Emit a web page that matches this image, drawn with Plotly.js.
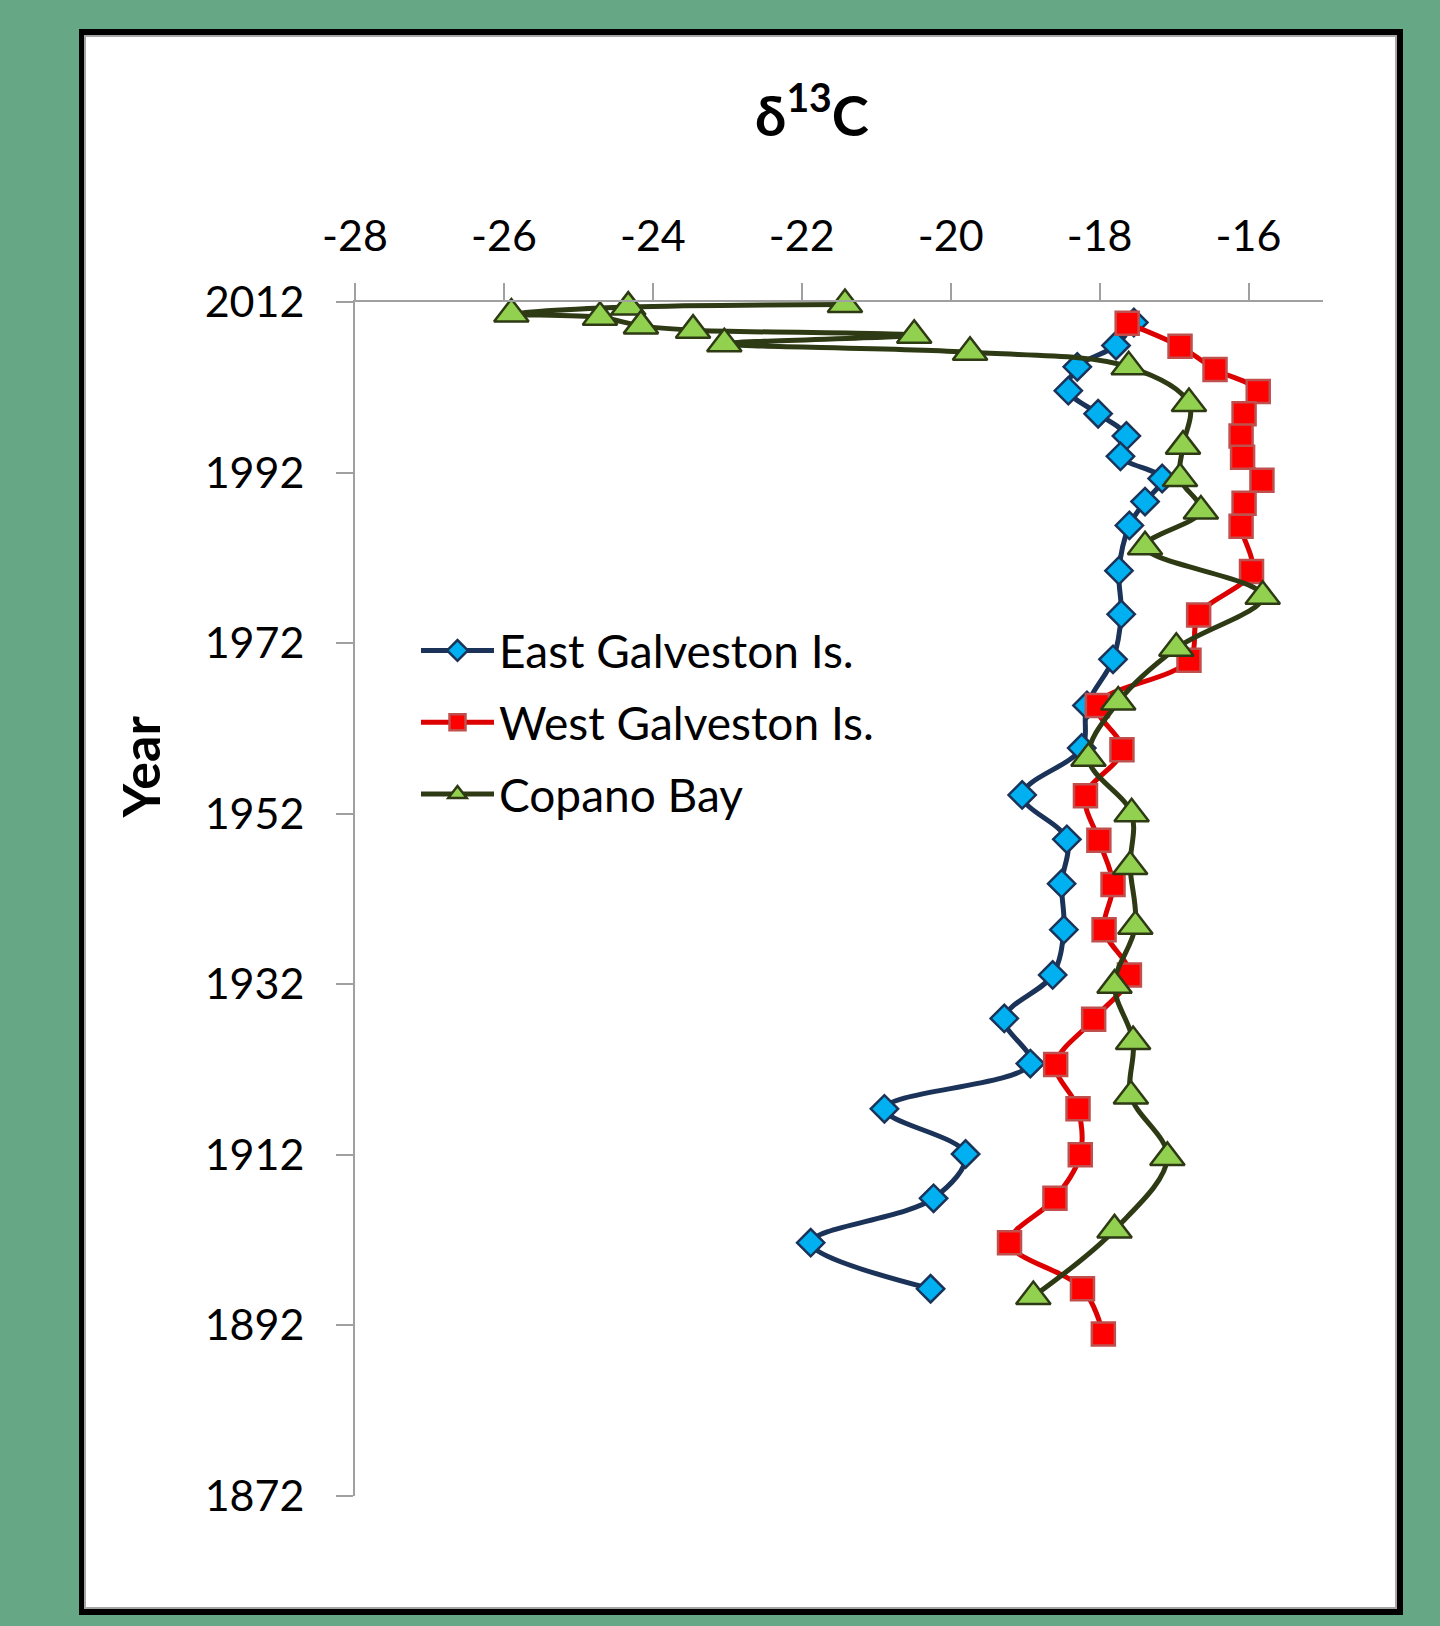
<!DOCTYPE html>
<html>
<head>
<meta charset="utf-8">
<script src="https://cdn.plot.ly/plotly-3.0.1.min.js"></script>
<style>
html,body{margin:0;padding:0;background:#66A886;}
#chart{width:1440px;height:1626px;}
</style>
</head>
<body>
<div id="chart"></div>
<script>
// ---- data ----
const seriesNames = ['East Galveston Is.', 'West Galveston Is.', 'Copano Bay'];

const yearsEast = [2009.6, 2006.9, 2004.4, 2001.6, 1998.9, 1996.3, 1993.9, 1991.3, 1988.6, 1985.8,
  1980.5, 1975.4, 1970.1, 1964.7, 1959.7, 1954.2, 1949.0, 1943.8, 1938.4, 1933.1,
  1928.0, 1922.7, 1917.4, 1912.1, 1906.9, 1901.7, 1896.3];
const d13cEast = [-17.54, -17.78, -18.30, -18.42, -18.02, -17.64, -17.72, -17.16, -17.39, -17.60,
  -17.74, -17.71, -17.82, -18.17, -18.24, -19.04, -18.44, -18.51, -18.48, -18.63,
  -19.28, -18.93, -20.89, -19.80, -20.23, -21.88, -20.27];

const yearsWest = [2009.5, 2006.8, 2004.1, 2001.5, 1998.9, 1996.3, 1993.8, 1991.1, 1988.4, 1985.7,
  1980.4, 1975.3, 1970.0, 1964.7, 1959.5, 1954.1, 1948.9, 1943.7, 1938.4, 1933.1,
  1927.9, 1922.6, 1917.4, 1912.0, 1906.9, 1901.7, 1896.3, 1891.0];
const d13cWest = [-17.63, -16.92, -16.45, -15.87, -16.06, -16.10, -16.08, -15.82, -16.06, -16.10,
  -15.96, -16.67, -16.80, -18.03, -17.70, -18.19, -18.01, -17.82, -17.94, -17.60,
  -18.08, -18.59, -18.29, -18.26, -18.60, -19.21, -18.23, -17.95];

const yearsCopano = [2011.7, 2011.4, 2010.6, 2010.2, 2009.2, 2008.7, 2008.1, 2007.1, 2006.1, 2004.4,
  2000.1, 1995.1, 1991.3, 1987.5, 1983.3, 1977.5, 1971.4, 1965.1, 1958.5, 1952.0,
  1945.8, 1938.8, 1931.9, 1925.3, 1918.9, 1911.7, 1903.2, 1895.4];
const d13cCopano = [-21.42, -24.33, -25.90, -24.71, -24.16, -23.46, -20.49, -23.04, -19.74, -17.61,
  -16.80, -16.88, -16.92, -16.64, -17.39, -15.81, -16.97, -17.75, -18.15, -17.57,
  -17.59, -17.52, -17.80, -17.55, -17.58, -17.09, -17.80, -18.89];

const xTickVals = [-28, -26, -24, -22, -20, -18, -16];
const xTickText = ['-28', '-26', '-24', '-22', '-20', '-18', '-16'];
const yTickVals = [1872, 1892, 1912, 1932, 1952, 1972, 1992, 2012];
const yTickText = ['1872', '1892', '1912', '1932', '1952', '1972', '1992', '2012'];

const chartTitle = 'δ<sup>13</sup>C';
const yTitle = 'Year';

// ---- figure ----
const FONT = 'Lato, "Open Sans", sans-serif';
const traces = [
  {
    type: 'scatter', mode: 'lines+markers', name: seriesNames[0],
    x: d13cEast, y: yearsEast, cliponaxis: false, legendgroup: 'g1',
    line: {color: '#1B3358', width: 5, shape: 'spline', smoothing: 1},
    marker: {symbol: 'diamond', size: 21, color: '#00B0F0', line: {color: '#1B3358', width: 2.5}}
  },
  {
    type: 'scatter', mode: 'lines+markers', name: seriesNames[1],
    x: d13cWest, y: yearsWest, cliponaxis: false, legendgroup: 'g2',
    line: {color: '#DD0000', width: 5, shape: 'spline', smoothing: 1},
    marker: {symbol: 'square', size: 23, color: '#FF0000', line: {color: '#C0504D', width: 2.5}}
  },
  {
    type: 'scatter', mode: 'lines+markers', name: seriesNames[2],
    x: d13cCopano, y: yearsCopano, cliponaxis: false, legendgroup: 'g3',
    line: {color: '#2E3A14', width: 5, shape: 'spline', smoothing: 1},
    marker: {symbol: 'triangle-up', size: 30, color: '#92D050', line: {color: '#2E3A14', width: 2.5}}
  }
];

// plot area in pixels: left 355, right 1323, top 302, bottom 1496
const PL = 355, PR = 1323, PT = 302, PB = 1496;
const px2x = p => (p - PL) / (PR - PL);
const px2y = p => (PB - p) / (PB - PT);

const layout = {
  width: 1440, height: 1626,
  paper_bgcolor: '#66A886', plot_bgcolor: '#FFFFFF',
  margin: {l: PL, r: 1440 - PR, t: PT, b: 1626 - PB, pad: 0},
  font: {family: FONT, color: '#000000'},
  showlegend: true,
  title: {
    text: chartTitle, xref: 'container', yref: 'container',
    x: 812 / 1440, xanchor: 'center', y: 1 - 116 / 1626, yanchor: 'middle',
    font: {family: FONT, size: 56, weight: 'bold', color: '#000000'}
  },
  xaxis: {
    range: [-28, -15], side: 'top', tickmode: 'array', tickvals: xTickVals, ticktext: xTickText,
    ticks: 'outside', ticklen: 17, tickwidth: 2, tickcolor: '#A0A0A0', ticklabelstandoff: 15,
    showline: true, linecolor: '#A0A0A0', linewidth: 2, showgrid: false, zeroline: false,
    tickfont: {family: FONT, size: 43, color: '#000000'}, fixedrange: true
  },
  yaxis: {
    range: [1872, 2012], tickmode: 'array', tickvals: yTickVals, ticktext: yTickText,
    ticks: 'outside', ticklen: 17, tickwidth: 2, tickcolor: '#A0A0A0', ticklabelstandoff: 23,
    showline: true, linecolor: '#A0A0A0', linewidth: 2, showgrid: false, zeroline: false,
    tickfont: {family: FONT, size: 43, color: '#000000'}, fixedrange: true
  },
  legend: {
    x: px2x(416), y: px2y(614), xanchor: 'left', yanchor: 'top',
    bgcolor: 'rgba(0,0,0,0)', borderwidth: 0,
    font: {family: FONT, size: 46, color: '#000000'},
    itemwidth: 73, tracegroupgap: 9, traceorder: 'grouped'
  },
  annotations: [{
    text: '<b>' + yTitle + '</b>', textangle: -90, showarrow: false,
    xref: 'paper', yref: 'paper', x: px2x(139), y: px2y(767.5),
    xanchor: 'center', yanchor: 'middle',
    font: {family: FONT, size: 52, color: '#000000'}
  }],
  shapes: [
    {type: 'rect', layer: 'below', xref: 'paper', yref: 'paper',
     x0: px2x(79), x1: px2x(1403), y0: px2y(1615), y1: px2y(29),
     fillcolor: '#000000', line: {width: 0}},
    {type: 'rect', layer: 'below', xref: 'paper', yref: 'paper',
     x0: px2x(85), x1: px2x(1396), y0: px2y(1608), y1: px2y(36),
     fillcolor: '#FFFFFF', line: {color: '#A6A6A6', width: 2}}
  ]
};

Plotly.newPlot('chart', traces, layout, {displayModeBar: false, staticPlot: true});
</script>
</body>
</html>
